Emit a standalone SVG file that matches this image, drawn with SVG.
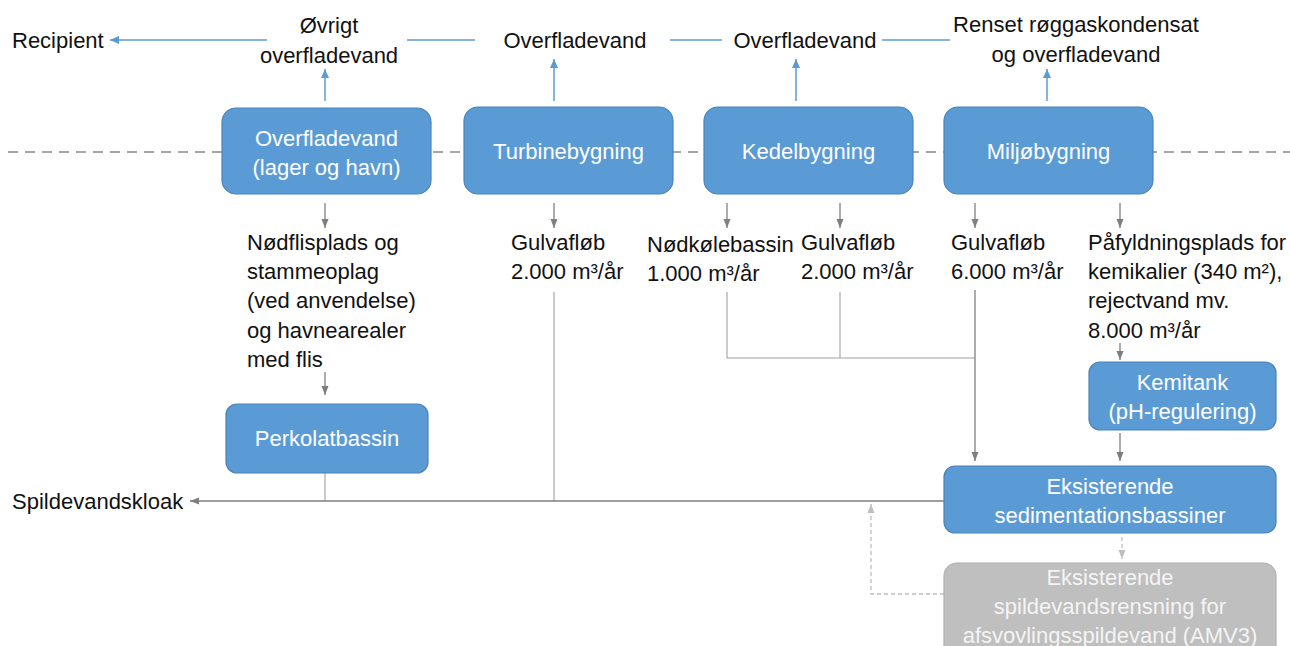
<svg xmlns="http://www.w3.org/2000/svg" width="1290" height="646" viewBox="0 0 1290 646">
<style>
  text { font-family: "Liberation Sans", Arial, sans-serif; font-size: 22px; fill: #111; }
  .box { fill: #5B9BD5; stroke: #4A83B8; stroke-width: 1.2; }
  .gbox { fill: #BFBFBF; stroke: #B0B0B0; stroke-width: 1.2; }
  .bt { fill: #FFFFFF; text-anchor: middle; }
  .gt { fill: #F4F4F4; text-anchor: middle; }
  .c { text-anchor: middle; }
  .blue { stroke: #5B9BD5; stroke-width: 1.5; fill: none; }
  .gray { stroke: #7F7F7F; stroke-width: 1.3; fill: none; }
  .lgray { stroke: #A0A0A0; stroke-width: 1.1; fill: none; }
  .dash { stroke: #BFBFBF; stroke-width: 1.3; fill: none; stroke-dasharray: 4 3; }
</style>
<defs>
  <marker id="ab" markerWidth="10" markerHeight="10" refX="9" refY="5" orient="auto" markerUnits="userSpaceOnUse">
    <path d="M0,1 L9,5 L0,9 z" fill="#5B9BD5"/>
  </marker>
  <marker id="ag" markerWidth="10" markerHeight="10" refX="9" refY="5" orient="auto" markerUnits="userSpaceOnUse">
    <path d="M0,1.5 L9,5 L0,8.5 z" fill="#7F7F7F"/>
  </marker>
  <marker id="al" markerWidth="10" markerHeight="10" refX="9" refY="5" orient="auto" markerUnits="userSpaceOnUse">
    <path d="M0,1.5 L9,5 L0,8.5 z" fill="#BFBFBF"/>
  </marker>
</defs>
<rect width="1290" height="646" fill="#FFFFFF"/>

<!-- boundary dashed line -->
<line x1="8" y1="152" x2="1290" y2="152" stroke="#A6A6A6" stroke-width="2" stroke-dasharray="10 7"/>

<g id="connectors">
  <!-- top blue flow -->
  <line class="blue" x1="950" y1="40" x2="882" y2="40"/>
  <line class="blue" x1="722" y1="40" x2="670" y2="40"/>
  <line class="blue" x1="475" y1="40" x2="407" y2="40"/>
  <line class="blue" x1="267" y1="40" x2="110" y2="40" marker-end="url(#ab)"/>
  <line class="blue" x1="325" y1="101" x2="325" y2="69" marker-end="url(#ab)"/>
  <line class="blue" x1="554" y1="101" x2="554" y2="59" marker-end="url(#ab)"/>
  <line class="blue" x1="796" y1="101" x2="796" y2="59" marker-end="url(#ab)"/>
  <line class="blue" x1="1047" y1="101" x2="1047" y2="69" marker-end="url(#ab)"/>
  <!-- down arrows below buildings -->
  <line class="gray" x1="325" y1="203" x2="325" y2="228" marker-end="url(#ag)"/>
  <line class="gray" x1="554" y1="203" x2="554" y2="228" marker-end="url(#ag)"/>
  <line class="gray" x1="727" y1="203" x2="727" y2="228" marker-end="url(#ag)"/>
  <line class="gray" x1="840" y1="203" x2="840" y2="228" marker-end="url(#ag)"/>
  <line class="gray" x1="975" y1="203" x2="975" y2="228" marker-end="url(#ag)"/>
  <line class="gray" x1="1120" y1="203" x2="1120" y2="228" marker-end="url(#ag)"/>
  <!-- to Perkolatbassin -->
  <line class="gray" x1="325" y1="372" x2="325" y2="395" marker-end="url(#ag)"/>
  <!-- collectors -->
  <path class="lgray" d="M727,292 V358 H975"/>
  <line class="lgray" x1="840" y1="292" x2="840" y2="358"/>
  <line class="gray" x1="975" y1="290" x2="975" y2="461" marker-end="url(#ag)"/>
  <line class="gray" x1="1120" y1="343" x2="1120" y2="360" marker-end="url(#ag)"/>
  <line class="gray" x1="1120" y1="433" x2="1120" y2="461" marker-end="url(#ag)"/>
  <!-- sewer -->
  <line class="lgray" x1="325" y1="473" x2="325" y2="501"/>
  <line class="lgray" x1="554" y1="292" x2="554" y2="501"/>
  <line class="gray" x1="944" y1="501" x2="190" y2="501" stroke-width="1.6" marker-end="url(#ag)"/>
  <!-- dashed AMV3 -->
  <line class="dash" x1="1122" y1="537" x2="1122" y2="559" marker-end="url(#al)"/>
  <path class="dash" d="M944,594 H871 V504" marker-end="url(#al)"/>
</g>

<g id="labels">
  <text x="12" y="48">Recipient</text>
  <text class="c" x="329" y="33">Øvrigt</text>
  <text class="c" x="329" y="63">overfladevand</text>
  <text class="c" x="575" y="48">Overfladevand</text>
  <text class="c" x="805" y="48">Overfladevand</text>
  <text class="c" x="1076" y="32">Renset røggaskondensat</text>
  <text class="c" x="1076" y="62">og overfladevand</text>

  <text x="247" y="250">Nødflisplads og</text>
  <text x="247" y="279">stammeoplag</text>
  <text x="247" y="308">(ved anvendelse)</text>
  <text x="247" y="338">og havnearealer</text>
  <text x="247" y="367">med flis</text>

  <text x="511" y="250">Gulvafløb</text>
  <text x="511" y="279">2.000 m³/år</text>
  <text x="647" y="252">Nødkølebassin</text>
  <text x="647" y="281">1.000 m³/år</text>
  <text x="801" y="250">Gulvafløb</text>
  <text x="801" y="279">2.000 m³/år</text>
  <text x="951" y="250">Gulvafløb</text>
  <text x="951" y="279">6.000 m³/år</text>
  <text x="1088" y="250">Påfyldningsplads for</text>
  <text x="1088" y="279">kemikalier (340 m²),</text>
  <text x="1088" y="308">rejectvand mv.</text>
  <text x="1088" y="338">8.000 m³/år</text>

  <text x="12" y="509">Spildevandskloak</text>
</g>

<g id="node-overfladevand">
  <rect class="box" x="222" y="108" width="209" height="86" rx="14"/>
  <text class="bt" x="326.5" y="146">Overfladevand</text>
  <text class="bt" x="326.5" y="175">(lager og havn)</text>
</g>
<g id="node-turbine">
  <rect class="box" x="464" y="107" width="209" height="87" rx="14"/>
  <text class="bt" x="568.5" y="159">Turbinebygning</text>
</g>
<g id="node-kedel">
  <rect class="box" x="704" y="107" width="209" height="87" rx="14"/>
  <text class="bt" x="808.5" y="159">Kedelbygning</text>
</g>
<g id="node-miljo">
  <rect class="box" x="944" y="107" width="209" height="87" rx="14"/>
  <text class="bt" x="1048.5" y="159">Miljøbygning</text>
</g>
<g id="node-perkolat">
  <rect class="box" x="226" y="404" width="202" height="69" rx="11"/>
  <text class="bt" x="327" y="446">Perkolatbassin</text>
</g>
<g id="node-kemitank">
  <rect class="box" x="1089" y="362" width="187" height="68" rx="11"/>
  <text class="bt" x="1182.5" y="390">Kemitank</text>
  <text class="bt" x="1182.5" y="419">(pH-regulering)</text>
</g>
<g id="node-sediment">
  <rect class="box" x="944" y="466" width="332" height="67" rx="11"/>
  <text class="bt" x="1110" y="494">Eksisterende</text>
  <text class="bt" x="1110" y="523">sedimentationsbassiner</text>
</g>
<g id="node-amv3">
  <rect class="gbox" x="944" y="563" width="332" height="100" rx="13"/>
  <text class="gt" x="1110" y="585">Eksisterende</text>
  <text class="gt" x="1110" y="614">spildevandsrensning for</text>
  <text class="gt" x="1110" y="643">afsvovlingsspildevand (AMV3)</text>
</g>
</svg>
